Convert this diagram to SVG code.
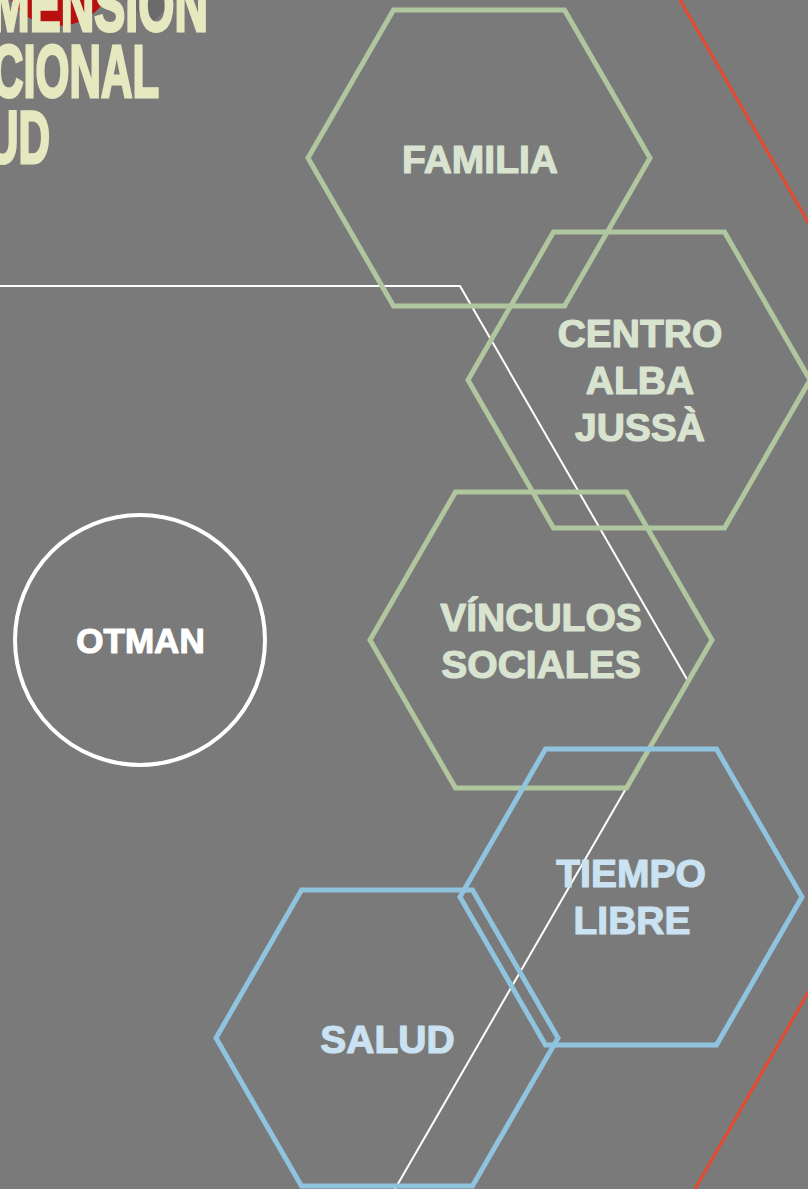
<svg xmlns="http://www.w3.org/2000/svg" width="808" height="1189" viewBox="0 0 808 1189">
  <style>
    .hexg { fill: none; stroke: #afc69f; stroke-width: 5; stroke-linejoin: miter; }
    .hexb { fill: none; stroke: #8fc3de; stroke-width: 5; stroke-linejoin: miter; }
    .lbl { font-family: "Liberation Sans", Arial, sans-serif; font-weight: bold; font-size: 39px; text-anchor: middle; stroke-width: 1.2; stroke-linejoin: round; }
    .lg { fill: #d9e4d0; stroke: #d9e4d0; }
    .lb { fill: #cae2f1; stroke: #cae2f1; }
    .lw { fill: #ffffff; stroke: #ffffff; font-size: 35px; }
    .title { font-family: "Liberation Sans Narrow", "Liberation Sans", Arial, sans-serif; font-weight: bold; font-size: 74px; fill: #e6e8bf; stroke: #e6e8bf; stroke-width: 3; stroke-linejoin: miter; }
  </style>
  <rect x="0" y="0" width="808" height="1189" fill="#7a7a7a"/>

  <g id="title">
    <circle cx="58" cy="-30" r="56" fill="#b80f0f"/>
    <polygon points="125,0 150,25 175,0" fill="#6b6b6b"/>
    <text class="title" x="-9" y="31" textLength="217" lengthAdjust="spacingAndGlyphs">MENSIÓN</text>
    <text class="title" x="-8" y="97" textLength="167" lengthAdjust="spacingAndGlyphs">CIONAL</text>
    <text class="title" x="-13" y="163" textLength="63" lengthAdjust="spacingAndGlyphs">UD</text>
  </g>

  <g id="connectors">
    <polyline points="0,286 460,286 688,681 395,1189" fill="none" stroke="#ffffff" stroke-width="2"/>
    <polyline points="680,0 1030,607 695,1189" fill="none" stroke="#e64a2e" stroke-width="3"/>
  </g>

  <g id="otman">
    <circle cx="140" cy="640" r="125" fill="none" stroke="#ffffff" stroke-width="4"/>
    <text class="lbl lw" x="140.5" y="653">OTMAN</text>
  </g>

  <g id="familia">
    <polygon class="hexg" points="308,158 393.5,10 564.5,10 650,158 564.5,306 393.5,306"/>
    <text class="lbl lg" x="480" y="172.5">FAMILIA</text>
  </g>

  <g id="centro">
    <polygon class="hexg" points="468,380 553.5,232 724.5,232 810,380 724.5,528 553.5,528"/>
    <text class="lbl lg" x="640" y="347">CENTRO</text>
    <text class="lbl lg" x="640" y="394">ALBA</text>
    <text class="lbl lg" x="640" y="441">JUSSÀ</text>
  </g>

  <g id="vinculos">
    <polygon class="hexg" points="370,640 455.5,492 626.5,492 712,640 626.5,788 455.5,788"/>
    <text class="lbl lg" x="541" y="631">VÍNCULOS</text>
    <text class="lbl lg" x="541" y="678">SOCIALES</text>
  </g>

  <g id="tiempo">
    <polygon class="hexb" points="460,897 545.5,749 716.5,749 802,897 716.5,1045 545.5,1045"/>
    <text class="lbl lb" x="631" y="887">TIEMPO</text>
    <text class="lbl lb" x="632" y="934">LIBRE</text>
  </g>

  <g id="salud">
    <polygon class="hexb" points="216,1038 301.5,890 472.5,890 558,1038 472.5,1186 301.5,1186"/>
    <text class="lbl lb" x="387.5" y="1053">SALUD</text>
  </g>
</svg>
